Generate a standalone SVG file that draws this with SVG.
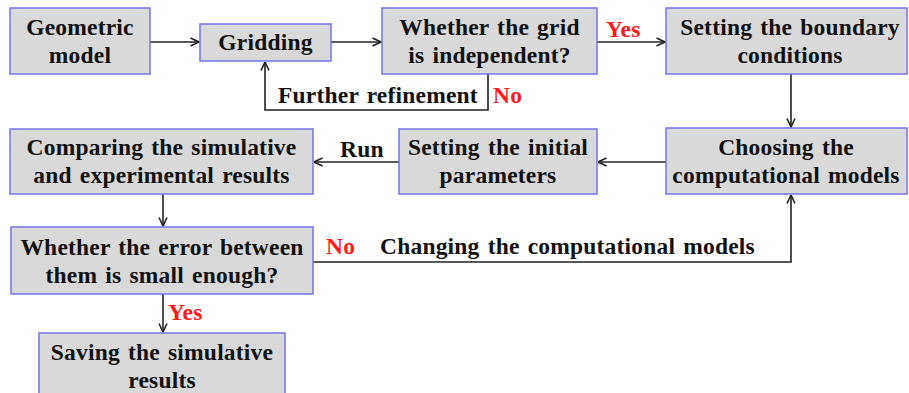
<svg xmlns="http://www.w3.org/2000/svg" width="909" height="393" viewBox="0 0 909 393">
<style>
.box{fill:#d9d9d9;stroke:#7474e6;stroke-width:1.5}
.t{font-family:"Liberation Serif","Times New Roman",serif;font-weight:bold;font-size:23.5px;fill:#111;text-anchor:middle;word-spacing:2px;letter-spacing:0.2px}
.l{font-family:"Liberation Serif","Times New Roman",serif;font-weight:bold;font-size:23.5px;fill:#111;word-spacing:2px;letter-spacing:0.2px}
.r{fill:#ff1a1a}
.c{fill:none;stroke:#222;stroke-width:1.6}
</style>
<defs>
<marker id="a" viewBox="0 0 10 10" refX="9.5" refY="5" markerWidth="10" markerHeight="10" markerUnits="userSpaceOnUse" orient="auto">
<path d="M1,1 L9.5,5 L1,9" fill="none" stroke="#222" stroke-width="1.6"/>
</marker>
</defs>
<rect width="909" height="393" fill="#fff"/>
<g id="connectors">
<path class="c" d="M150,42 H199" marker-end="url(#a)"/>
<path class="c" d="M331,42 H381" marker-end="url(#a)"/>
<path class="c" d="M597,42 H665" marker-end="url(#a)"/>
<path class="c" d="M488,74 V110 H265 V62" marker-end="url(#a)"/>
<path class="c" d="M791,74 V127" marker-end="url(#a)"/>
<path class="c" d="M666,162 H598" marker-end="url(#a)"/>
<path class="c" d="M399,162 H314" marker-end="url(#a)"/>
<path class="c" d="M163,194 V226" marker-end="url(#a)"/>
<path class="c" d="M313,262 H791 V195" marker-end="url(#a)"/>
<path class="c" d="M163,294 V332" marker-end="url(#a)"/>
<text class="l r" x="606" y="37">Yes</text>
<text class="l" x="278" y="103">Further refinement</text>
<text class="l r" x="493" y="103">No</text>
<text class="l" x="340" y="157">Run</text>
<text class="l r" x="326" y="254">No</text>
<text class="l" x="380" y="254">Changing the computational models</text>
<text class="l r" x="168" y="320">Yes</text>
</g>
<g id="geometric">
<rect class="box" x="10" y="8" width="140" height="66"/>
<text class="t" x="80" y="35">Geometric</text>
<text class="t" x="80" y="63">model</text>
</g>
<g id="gridding">
<rect class="box" x="200" y="24" width="131" height="37"/>
<text class="t" x="265.5" y="50">Gridding</text>
</g>
<g id="grid-independent">
<rect class="box" x="382" y="8" width="215" height="66"/>
<text class="t" x="489.5" y="35">Whether the grid</text>
<text class="t" x="489.5" y="63">is independent?</text>
</g>
<g id="boundary">
<rect class="box" x="666" y="8" width="241" height="66"/>
<text class="t" x="790" y="35">Setting the boundary</text>
<text class="t" x="790" y="63">conditions</text>
</g>
<g id="choosing">
<rect class="box" x="666" y="128" width="241" height="66"/>
<text class="t" x="786" y="155">Choosing the</text>
<text class="t" x="786" y="183">computational models</text>
</g>
<g id="initial">
<rect class="box" x="399" y="129" width="198" height="65"/>
<text class="t" x="498" y="155">Setting the initial</text>
<text class="t" x="498" y="183">parameters</text>
</g>
<g id="comparing">
<rect class="box" x="10" y="129" width="303" height="65"/>
<text class="t" x="161.5" y="155">Comparing the simulative</text>
<text class="t" x="161.5" y="183">and experimental results</text>
</g>
<g id="error">
<rect class="box" x="11" y="227" width="302" height="67"/>
<text class="t" x="162" y="255">Whether the error between</text>
<text class="t" x="162" y="283">them is small enough?</text>
</g>
<g id="saving">
<rect class="box" x="39" y="333" width="246" height="70"/>
<text class="t" x="162" y="360">Saving the simulative</text>
<text class="t" x="162" y="388">results</text>
</g>
</svg>
